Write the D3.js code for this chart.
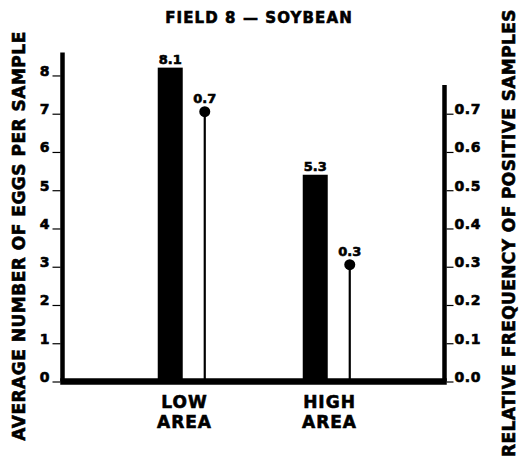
<!DOCTYPE html>
<html>
<head>
<meta charset="utf-8">
<script src="https://cdn.jsdelivr.net/npm/d3@7"></script>
<style>
  html, body { margin: 0; padding: 0; background: #fff; }
  svg { display: block; }
  text { font-family: "DejaVu Sans", sans-serif; font-weight: bold; fill: #000; stroke: #000; stroke-width: 0.6px; }
</style>
</head>
<body>
<svg id="chart" width="520" height="459"></svg>
<script>
// ---- data ----
const title = "FIELD 8 \u2014 SOYBEAN";
const categories = ["LOW AREA", "HIGH AREA"];
const eggsPerSample = [8.1, 5.3];          // bars, left axis
const positiveFrequency = [0.7, 0.3];      // lollipops, right axis
const eggsTicks = [0, 1, 2, 3, 4, 5, 6, 7, 8];
const freqTicks = [0.0, 0.1, 0.2, 0.3, 0.4, 0.5, 0.6, 0.7];
const leftTitle = "AVERAGE NUMBER OF EGGS PER SAMPLE";
const rightTitle = "RELATIVE FREQUENCY OF POSITIVE SAMPLES";

// ---- layout ----
const svg = d3.select("#chart");
const axisLeftX = 62.5, axisRightX = 444.5;
const baseY = 381.5;

const yL = d3.scaleLinear().domain([0, 8.6]).range([baseY, 52.5]);
const yR = d3.scaleLinear().domain([0, 0.86]).range([baseY, 52.5]);

const x0 = d3.scaleBand().domain(categories).range([115, 405]);
const x1 = d3.scalePoint().domain(["eggs", "freq"]).range([0, x0.bandwidth()]).padding(1.6);

// Title
svg.append("text")
  .attr("x", 259).attr("y", 23)
  .attr("text-anchor", "middle")
  .attr("font-size", 15)
  .attr("letter-spacing", 1.1)
  .text(title);

// Left axis line
svg.append("line")
  .attr("x1", axisLeftX).attr("x2", axisLeftX)
  .attr("y1", yL(8.6)).attr("y2", baseY)
  .attr("stroke", "#000").attr("stroke-width", 4.5);

// Right axis line
svg.append("line")
  .attr("x1", axisRightX).attr("x2", axisRightX)
  .attr("y1", yR(0.775)).attr("y2", baseY)
  .attr("stroke", "#000").attr("stroke-width", 4.5);

// Left ticks via d3 axis
const gL = svg.append("g")
  .attr("transform", `translate(${axisLeftX - 2},0)`)
  .call(d3.axisLeft(yL).tickValues(eggsTicks).tickFormat(d3.format("d")).tickSize(8).tickPadding(3));
gL.select(".domain").remove();
gL.selectAll(".tick line").attr("stroke", "#000").attr("stroke-width", 1.2);
gL.selectAll(".tick text")
  .attr("font-family", "DejaVu Sans").attr("font-weight", "bold")
  .attr("font-size", 14).attr("dy", "0").attr("fill", "#000");

// Right ticks
const gR = svg.append("g")
  .attr("transform", `translate(${axisRightX + 2},0)`)
  .call(d3.axisRight(yR).tickValues(freqTicks).tickFormat(d3.format(".1f")).tickSize(7).tickPadding(1));
gR.select(".domain").remove();
gR.selectAll(".tick line").attr("stroke", "#000").attr("stroke-width", 1.2);
gR.selectAll(".tick text")
  .attr("font-family", "DejaVu Sans").attr("font-weight", "bold")
  .attr("font-size", 14).attr("dy", "0").attr("letter-spacing", 0.6).attr("fill", "#000");

// Bars
const barW = 25;
svg.selectAll("rect.bar")
  .data(categories)
  .join("rect")
  .attr("class", "bar")
  .attr("x", (d) => x0(d) + x1("eggs") - barW / 2)
  .attr("y", (d, i) => yL(eggsPerSample[i]) - 4)
  .attr("width", barW)
  .attr("height", (d, i) => baseY - yL(eggsPerSample[i]) + 4)
  .attr("fill", "#000");

svg.selectAll("text.barlab")
  .data(categories)
  .join("text")
  .attr("class", "barlab")
  .attr("x", (d) => x0(d) + x1("eggs"))
  .attr("y", (d, i) => yL(eggsPerSample[i]) - 7.5)
  .attr("text-anchor", "middle")
  .attr("font-size", 13)
  .text((d, i) => eggsPerSample[i].toFixed(1));

// Lollipops
svg.selectAll("line.stem")
  .data(categories)
  .join("line")
  .attr("class", "stem")
  .attr("x1", (d) => x0(d) + x1("freq"))
  .attr("x2", (d) => x0(d) + x1("freq"))
  .attr("y1", (d, i) => yR(positiveFrequency[i]))
  .attr("y2", baseY)
  .attr("stroke", "#000").attr("stroke-width", 2.2);

svg.selectAll("circle.dot")
  .data(categories)
  .join("circle")
  .attr("class", "dot")
  .attr("cx", (d) => x0(d) + x1("freq"))
  .attr("cy", (d, i) => yR(positiveFrequency[i]) - 2)
  .attr("r", 5.5)
  .attr("fill", "#000");

svg.selectAll("text.dotlab")
  .data(categories)
  .join("text")
  .attr("class", "dotlab")
  .attr("x", (d) => x0(d) + x1("freq"))
  .attr("y", (d, i) => yR(positiveFrequency[i]) - 11)
  .attr("text-anchor", "middle")
  .attr("font-size", 13)
  .text((d, i) => positiveFrequency[i].toFixed(1));

// Baseline
svg.append("line")
  .attr("x1", axisLeftX - 2.25).attr("x2", axisRightX + 2.25)
  .attr("y1", baseY).attr("y2", baseY)
  .attr("stroke", "#000").attr("stroke-width", 6.5);

// Category labels
categories.forEach((c) => {
  const words = c.split(" ");
  const t = svg.append("text")
    .attr("text-anchor", "middle")
    .attr("font-size", 17)
    .attr("letter-spacing", 1);
  words.forEach((w, j) => {
    t.append("tspan")
      .attr("x", x0(c) + x0.bandwidth() / 2 - 3)
      .attr("y", 408 + j * 20)
      .text(w);
  });
});

// Axis titles
svg.append("text")
  .attr("transform", "translate(24.5,236) rotate(-90)")
  .attr("text-anchor", "middle")
  .attr("font-size", 17)
  .attr("letter-spacing", 0.5)
  .text(leftTitle);

svg.append("text")
  .attr("transform", "translate(515,233) rotate(-90)")
  .attr("text-anchor", "middle")
  .attr("font-size", 17)
  .attr("letter-spacing", 0.4)
  .text(rightTitle);
</script>
</body>
</html>
